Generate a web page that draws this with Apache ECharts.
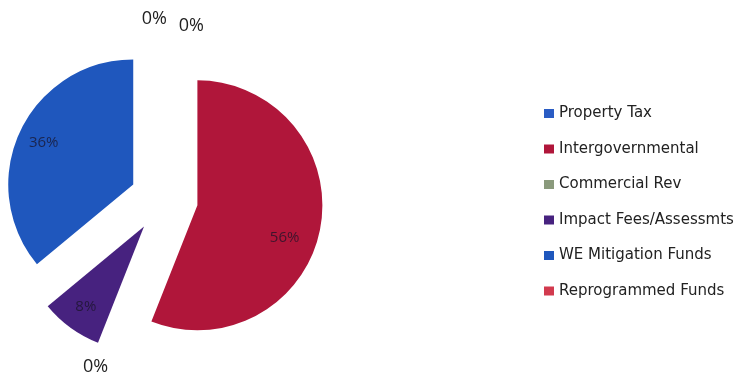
<!DOCTYPE html>
<html lang="en">
<head>
    <meta charset="utf-8">
    <title>Revenue sources</title>
    <script src="https://cdn.jsdelivr.net/npm/echarts@6/dist/echarts.min.js"></script>
</head>
<body style="margin:0; background:#fff;">
<div id="main" style="width: 738px; height: 379px;"></div>
<script type="text/javascript">
    // slices, clockwise from 12 o'clock
    const categories = ['Property Tax', 'Intergovernmental', 'Commercial Rev', 'Impact Fees/Assessmts', 'WE Mitigation Funds', 'Reprogrammed Funds'];
    const values = [0, 56, 0, 8, 36, 0];
    const sliceColors = ['#2a5cc4', '#b0163a', '#8a9a7c', '#47227f', '#1f57bd', '#d23a4e'];

    const pieCenter = [164, 199];
    const explode = 34;

    let myChart = echarts.init(document.getElementById('main'));

    // main slices
    const sliceData = categories.map(function (name, i) {
        return {name: name, value: values[i], selected: true, itemStyle: {color: sliceColors[i]}};
    });

    // label carrier: same data on a ring so inside labels sit further out
    const labelData = categories.map(function (name, i) {
        let lbl = values[i] === 0
            ? {position: 'outside', color: '#222', fontSize: 18}
            : {position: 'inside', color: 'rgba(25,20,40,0.75)', fontSize: 15};
        return {name: name, value: values[i], selected: true, label: lbl};
    });

    // small nudges to match the "best fit" placement of the original
    const labelNudge = {0: [8, -1], 1: [-10, 14], 2: [15, 1], 5: [45, 6]};

    const option = {
        backgroundColor: '#fff',
        animation: false,
        legend: {
            data: categories,
            orient: 'vertical',
            left: 539,
            top: 101,
            itemWidth: 10,
            itemHeight: 9,
            itemGap: 20.5,
            icon: 'rect',
            selectedMode: false,
            textStyle: {fontFamily: 'DejaVu Sans', fontSize: 15, color: '#222'}
        },
        series: [{
            type: 'pie',
            name: 'slices',
            center: pieCenter,
            radius: [0, 125],
            startAngle: 90,
            clockwise: true,
            selectedMode: 'multiple',
            selectedOffset: explode,
            label: {show: false},
            labelLine: {show: false},
            emphasis: {disabled: true},
            select: {itemStyle: {borderWidth: 0}},
            data: sliceData
        }, {
            type: 'pie',
            name: 'labels',
            center: pieCenter,
            radius: [67, 125],
            startAngle: 90,
            clockwise: true,
            silent: true,
            selectedMode: 'multiple',
            selectedOffset: explode,
            avoidLabelOverlap: false,
            itemStyle: {color: 'rgba(0,0,0,0)'},
            label: {show: true, formatter: '{c}%', fontFamily: 'Open Sans'},
            labelLine: {show: false, length: 20, length2: 0},
            labelLayout: function (params) {
                const n = labelNudge[params.dataIndex];
                return n ? {dx: n[0], dy: n[1]} : {};
            },
            emphasis: {disabled: true},
            select: {itemStyle: {color: 'rgba(0,0,0,0)', borderWidth: 0}},
            data: labelData
        }]
    };
    myChart.setOption(option);
</script>
</body>
</html>
